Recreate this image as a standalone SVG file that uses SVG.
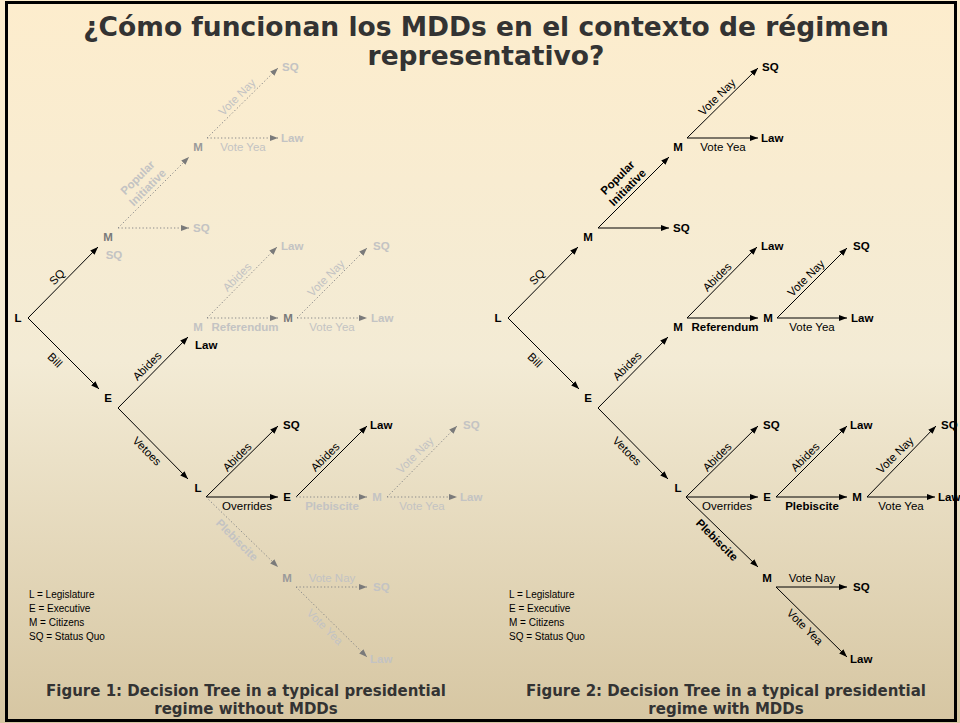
<svg xmlns="http://www.w3.org/2000/svg" width="960" height="723" viewBox="0 0 960 723">
<defs>
<linearGradient id="bg" x1="0" y1="0" x2="0" y2="1">
<stop offset="0" stop-color="#FDEDCD"/>
<stop offset="0.5" stop-color="#F3EBD5"/>
<stop offset="1" stop-color="#D6C6A2"/>
</linearGradient>
<marker id="ab" viewBox="0 0 8 6" refX="8" refY="3" markerWidth="8" markerHeight="6" markerUnits="userSpaceOnUse" orient="auto"><path d="M0,0 L8,3 L0,6 z" fill="#000"/></marker>
<marker id="ag" viewBox="0 0 8 6" refX="8" refY="3" markerWidth="8" markerHeight="6" markerUnits="userSpaceOnUse" orient="auto"><path d="M0,0 L8,3 L0,6 z" fill="#7a7a7a"/></marker>
<style>
.t{font-family:"DejaVu Sans",Verdana,sans-serif;font-weight:bold;fill:#333;text-anchor:middle}
.n{font-family:"Liberation Sans",Arial,sans-serif;font-weight:bold;font-size:11.5px;fill:#000}
.e{font-family:"Liberation Sans",Arial,sans-serif;font-size:11.5px;fill:#000;text-anchor:middle}
.eb{font-family:"Liberation Sans",Arial,sans-serif;font-weight:bold;font-size:11.5px;fill:#000;text-anchor:middle}
.lg{font-family:"Liberation Sans",Arial,sans-serif;font-size:10px;fill:#000}
.m{text-anchor:middle}
.g{fill:#c3c3c3}
.g2{fill:#9a9a9a}
.g3{fill:#7a7a7a}
.s{stroke:#000;stroke-width:1;fill:none;marker-end:url(#ab)}
.d{stroke:#8a8a8a;stroke-width:1;fill:none;stroke-dasharray:1.3 2.2;marker-end:url(#ag)}
</style>
</defs>
<rect x="0" y="0" width="960" height="723" fill="url(#bg)"/>

<g id="title">
<text class="t" x="486" y="36" font-size="26.5">¿Cómo funcionan los MDDs en el contexto de régimen</text>
<text class="t" x="486" y="65" font-size="26.5">representativo?</text>
</g>

<g id="connectors">
<!-- left tree -->
<line class="s" x1="28" y1="318" x2="98" y2="247"/>
<line class="s" x1="28" y1="318" x2="99" y2="389"/>
<line class="d" x1="118" y1="228" x2="189" y2="228"/>
<line class="d" x1="118" y1="228" x2="189" y2="157"/>
<line class="d" x1="207" y1="138" x2="278" y2="68"/>
<line class="d" x1="207" y1="138" x2="278" y2="138"/>
<line class="s" x1="118" y1="408" x2="188" y2="337"/>
<line class="d" x1="207" y1="318" x2="278" y2="318"/>
<line class="d" x1="207" y1="318" x2="277" y2="247"/>
<line class="d" x1="297" y1="318" x2="367" y2="248"/>
<line class="d" x1="297" y1="318" x2="367" y2="318"/>
<line class="s" x1="118" y1="408" x2="188" y2="479"/>
<line class="s" x1="206" y1="497" x2="278" y2="426"/>
<line class="s" x1="206" y1="497" x2="278" y2="497"/>
<line class="s" x1="296" y1="497" x2="367" y2="426"/>
<line class="d" x1="296" y1="497" x2="367" y2="497"/>
<line class="d" x1="387" y1="497" x2="457" y2="426"/>
<line class="d" x1="387" y1="497" x2="457" y2="497"/>
<line class="d" x1="206" y1="497" x2="278" y2="567"/>
<line class="d" x1="296" y1="587" x2="367" y2="587"/>
<line class="d" x1="296" y1="587" x2="367" y2="657"/>
<!-- right tree -->
<line class="s" x1="508" y1="318" x2="578" y2="247"/>
<line class="s" x1="508" y1="318" x2="579" y2="389"/>
<line class="s" x1="598" y1="228" x2="669" y2="228"/>
<line class="s" x1="598" y1="228" x2="669" y2="157"/>
<line class="s" x1="687" y1="138" x2="758" y2="68"/>
<line class="s" x1="687" y1="138" x2="758" y2="138"/>
<line class="s" x1="598" y1="408" x2="668" y2="337"/>
<line class="s" x1="687" y1="318" x2="758" y2="318"/>
<line class="s" x1="687" y1="318" x2="757" y2="247"/>
<line class="s" x1="777" y1="318" x2="847" y2="248"/>
<line class="s" x1="777" y1="318" x2="847" y2="318"/>
<line class="s" x1="598" y1="408" x2="668" y2="479"/>
<line class="s" x1="686" y1="497" x2="758" y2="426"/>
<line class="s" x1="686" y1="497" x2="758" y2="497"/>
<line class="s" x1="776" y1="497" x2="847" y2="426"/>
<line class="s" x1="776" y1="497" x2="847" y2="497"/>
<line class="s" x1="867" y1="497" x2="936" y2="426"/>
<line class="s" x1="867" y1="497" x2="935" y2="497"/>
<line class="s" x1="686" y1="497" x2="758" y2="567"/>
<line class="s" x1="776" y1="587" x2="847" y2="587"/>
<line class="s" x1="776" y1="587" x2="847" y2="657"/>
</g>

<g id="edge-labels-left">
<text class="e" transform="translate(57,277) rotate(-45)" y="4">SQ</text>
<text class="e" transform="translate(55,360) rotate(45)" y="4">Bill</text>
<text class="eb g" transform="translate(142.5,182.5) rotate(-45)"><tspan x="0" y="-3">Popular</tspan><tspan x="0" y="11">Initiative</tspan></text>
<text class="e g" transform="translate(237,97) rotate(-45)" y="4">Vote Nay</text>
<text class="e g" x="243" y="151">Vote Yea</text>
<text class="e" transform="translate(147,366) rotate(-45)" y="4">Abides</text>
<text class="eb g" x="245" y="331">Referendum</text>
<text class="e g" transform="translate(237,277) rotate(-45)" y="4">Abides</text>
<text class="e g" transform="translate(326,278) rotate(-45)" y="4">Vote Nay</text>
<text class="e g" x="332" y="331">Vote Yea</text>
<text class="e" transform="translate(147,451) rotate(45)" y="4">Vetoes</text>
<text class="e" transform="translate(237,457) rotate(-45)" y="4">Abides</text>
<text class="e" x="247" y="510">Overrides</text>
<text class="e" transform="translate(325,457) rotate(-45)" y="4">Abides</text>
<text class="eb g" x="332" y="510">Plebiscite</text>
<text class="e g" transform="translate(415,455) rotate(-45)" y="4">Vote Nay</text>
<text class="e g" x="422" y="510">Vote Yea</text>
<text class="eb g" transform="translate(237,540) rotate(45)" y="4">Plebiscite</text>
<text class="e g" x="332" y="582">Vote Nay</text>
<text class="e g" transform="translate(325,627) rotate(45)" y="4">Vote Yea</text>
</g>

<g id="edge-labels-right">
<text class="e" transform="translate(537,277) rotate(-45)" y="4">SQ</text>
<text class="e" transform="translate(535,360) rotate(45)" y="4">Bill</text>
<text class="eb" transform="translate(622.5,182.5) rotate(-45)"><tspan x="0" y="-3">Popular</tspan><tspan x="0" y="11">Initiative</tspan></text>
<text class="e" transform="translate(717,97) rotate(-45)" y="4">Vote Nay</text>
<text class="e" x="723" y="151">Vote Yea</text>
<text class="e" transform="translate(627,366) rotate(-45)" y="4">Abides</text>
<text class="eb" x="725" y="331">Referendum</text>
<text class="e" transform="translate(717,277) rotate(-45)" y="4">Abides</text>
<text class="e" transform="translate(806,278) rotate(-45)" y="4">Vote Nay</text>
<text class="e" x="812" y="331">Vote Yea</text>
<text class="e" transform="translate(627,451) rotate(45)" y="4">Vetoes</text>
<text class="e" transform="translate(717,457) rotate(-45)" y="4">Abides</text>
<text class="e" x="727" y="510">Overrides</text>
<text class="e" transform="translate(805,457) rotate(-45)" y="4">Abides</text>
<text class="eb" x="812" y="510">Plebiscite</text>
<text class="e" transform="translate(895,455) rotate(-45)" y="4">Vote Nay</text>
<text class="e" x="901" y="510">Vote Yea</text>
<text class="eb" transform="translate(717,540) rotate(45)" y="4">Plebiscite</text>
<text class="e" x="812" y="582">Vote Nay</text>
<text class="e" transform="translate(805,627) rotate(45)" y="4">Vote Yea</text>
</g>

<!-- left tree nodes -->
<g id="a-L"><text class="n m" x="18" y="322">L</text></g>
<g id="a-M1"><text class="n m g3" x="108" y="241">M</text><text class="n m g" x="114" y="259">SQ</text></g>
<g id="a-SQ1"><text class="n g" x="193" y="232">SQ</text></g>
<g id="a-M2"><text class="n m g2" x="198" y="151">M</text></g>
<g id="a-SQ2"><text class="n g" x="282" y="71">SQ</text></g>
<g id="a-Law2"><text class="n g" x="281" y="142">Law</text></g>
<g id="a-E"><text class="n m" x="108" y="402">E</text></g>
<g id="a-Law3"><text class="n" x="195" y="349">Law</text></g>
<g id="a-M3"><text class="n m g" x="198" y="331">M</text></g>
<g id="a-Law4"><text class="n g" x="281" y="250">Law</text></g>
<g id="a-M4"><text class="n m g3" x="288" y="322">M</text></g>
<g id="a-SQ4"><text class="n g" x="373" y="250">SQ</text></g>
<g id="a-Law5"><text class="n g" x="371" y="322">Law</text></g>
<g id="a-L2"><text class="n m" x="198" y="492">L</text></g>
<g id="a-SQ5"><text class="n" x="283" y="429">SQ</text></g>
<g id="a-E2"><text class="n m" x="287" y="501">E</text></g>
<g id="a-Law6"><text class="n" x="370" y="429">Law</text></g>
<g id="a-M5"><text class="n m g" x="377" y="501">M</text></g>
<g id="a-SQ6"><text class="n g" x="463" y="429">SQ</text></g>
<g id="a-Law7"><text class="n g" x="460" y="501">Law</text></g>
<g id="a-M6"><text class="n m g2" x="287" y="582">M</text></g>
<g id="a-SQ7"><text class="n g" x="373" y="591">SQ</text></g>
<g id="a-Law8"><text class="n g" x="370" y="663">Law</text></g>

<!-- right tree nodes -->
<g id="b-L"><text class="n m" x="498" y="322">L</text></g>
<g id="b-M1"><text class="n m" x="588" y="241">M</text></g>
<g id="b-SQ1"><text class="n" x="673" y="232">SQ</text></g>
<g id="b-M2"><text class="n m" x="678" y="151">M</text></g>
<g id="b-SQ2"><text class="n" x="762" y="71">SQ</text></g>
<g id="b-Law2"><text class="n" x="761" y="142">Law</text></g>
<g id="b-E"><text class="n m" x="588" y="402">E</text></g>
<g id="b-M3"><text class="n m" x="678" y="331">M</text></g>
<g id="b-Law4"><text class="n" x="761" y="250">Law</text></g>
<g id="b-M4"><text class="n m" x="768" y="322">M</text></g>
<g id="b-SQ4"><text class="n" x="853" y="250">SQ</text></g>
<g id="b-Law5"><text class="n" x="851" y="322">Law</text></g>
<g id="b-L2"><text class="n m" x="678" y="492">L</text></g>
<g id="b-SQ5"><text class="n" x="763" y="429">SQ</text></g>
<g id="b-E2"><text class="n m" x="767" y="501">E</text></g>
<g id="b-Law6"><text class="n" x="850" y="429">Law</text></g>
<g id="b-M5"><text class="n m" x="857" y="501">M</text></g>
<g id="b-M6"><text class="n m" x="767" y="582">M</text></g>
<g id="b-SQ7"><text class="n" x="853" y="591">SQ</text></g>
<g id="b-Law8"><text class="n" x="850" y="663">Law</text></g>

<g id="legend-left">
<text class="lg" x="29" y="598">L = Legislature</text>
<text class="lg" x="29" y="612">E = Executive</text>
<text class="lg" x="29" y="626">M = Citizens</text>
<text class="lg" x="29" y="640">SQ = Status Quo</text>
</g>
<g id="legend-right">
<text class="lg" x="509" y="598">L = Legislature</text>
<text class="lg" x="509" y="612">E = Executive</text>
<text class="lg" x="509" y="626">M = Citizens</text>
<text class="lg" x="509" y="640">SQ = Status Quo</text>
</g>

<g id="captions">
<text class="t" x="246" y="696" font-size="15">Figure 1: Decision Tree in a typical presidential</text>
<text class="t" x="246" y="714" font-size="15">regime without MDDs</text>
<text class="t" x="726" y="696" font-size="15">Figure 2: Decision Tree in a typical presidential</text>
<text class="t" x="726" y="714" font-size="15">regime with MDDs</text>
</g>

<rect x="6.5" y="2.5" width="949" height="718" fill="none" stroke="#000" stroke-width="3"/>

<g id="b-SQ6"><text class="n" x="941" y="429">SQ</text></g>
<g id="b-Law7"><text class="n" x="938" y="501">Law</text></g>
</svg>
